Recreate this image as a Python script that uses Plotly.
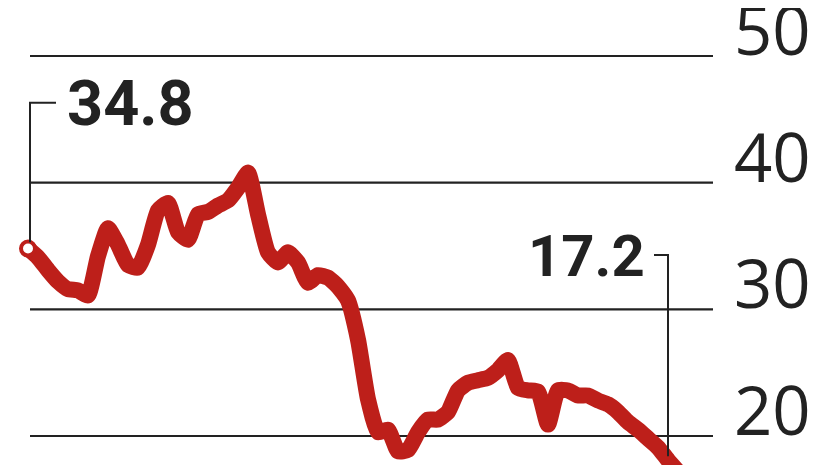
import plotly.graph_objects as go

# --- data ---
days = list(range(66))
price = [
    34.8, 34.1, 33.1, 32.2, 31.6, 31.5, 31.1, 34.2, 36.4, 35.1,
    33.5, 33.3, 35.1, 37.8, 38.4, 36.1, 35.5, 37.5, 37.7, 38.2,
    38.6, 39.6, 40.8, 37.5, 34.5, 33.7, 34.5, 33.7, 32.1, 32.7,
    32.5, 31.8, 30.7, 27.6, 22.9, 20.3, 20.5, 18.8, 18.9, 20.3,
    21.3, 21.3, 21.9, 23.6, 24.2, 24.4, 24.6, 25.2, 26.0, 23.8,
    23.6, 23.5, 20.9, 23.6, 23.6, 23.2, 23.2, 22.8, 22.5, 21.9,
    21.1, 20.5, 19.8, 19.1, 18.1, 17.2,
]
grid_values = [20, 30, 40, 50]
grid_labels = ['20', '30', '40', '50']
first_label = '34.8'
last_label = '17.2'

RED = '#bd1f1a'
INK = '#222222'

# page body adds an 8px margin, so the figure is laid out 8px up/left
fig = go.Figure()

fig.add_trace(go.Scatter(
    x=days, y=price, mode='lines',
    line=dict(color=RED, width=16, shape='spline', smoothing=0.5),
    hoverinfo='skip',
))
# hollow start marker
fig.add_trace(go.Scatter(
    x=[days[0]], y=[price[0]], mode='markers',
    marker=dict(size=14, color='white', line=dict(color=RED, width=4)),
    hoverinfo='skip', cliponaxis=False,
))

shapes = []
annotations = []

# gridlines + right-hand labels
for v, lab in zip(grid_values, grid_labels):
    shapes.append(dict(type='line', xref='paper', yref='y',
                       x0=22 / 826, x1=705 / 826, y0=v, y1=v,
                       line=dict(color=INK, width=2.2), layer='below'))
    annotations.append(dict(x=724 / 826, y=v, xref='paper', yref='y',
                            text=lab, showarrow=False,
                            xanchor='left', yanchor='middle', yshift=27,
                            font=dict(family='Open Sans', size=67, color=INK)))

# leader for first value
x0 = days[0] + 0.2
shapes.append(dict(type='path', xref='x', yref='y',
                   path=f'M {x0},{price[0] + 0.5} L {x0},46.3 L {x0 + 2.6},46.3',
                   line=dict(color=INK, width=2)))
annotations.append(dict(x=x0 + 3.5, y=46.3, xref='x', yref='y',
                        text=f'<b>{first_label}</b>', showarrow=False,
                        xanchor='left', yanchor='middle', yshift=-1,
                        font=dict(family='Roboto', size=63, color=INK)))

# leader for last value
xe = days[-1] - 1.0
shapes.append(dict(type='path', xref='x', yref='y',
                   path=f'M {xe - 1.4},34.3 L {xe},34.3 L {xe},{price[-1] + 1.2}',
                   line=dict(color=INK, width=2)))
annotations.append(dict(x=xe - 2.1, y=34.3, xref='x', yref='y',
                        text=f'<b>{last_label}</b>', showarrow=False,
                        xanchor='right', yanchor='middle', yshift=-1,
                        font=dict(family='Roboto', size=58, color=INK)))

fig.update_layout(
    width=826, height=465,
    margin=dict(l=0, r=0, t=0, b=0),
    paper_bgcolor='white', plot_bgcolor='white',
    showlegend=False,
    xaxis=dict(range=[-2.0, 80.6], visible=False, fixedrange=True),
    yaxis=dict(range=[17.08, 53.79], visible=False, fixedrange=True),
    shapes=shapes,
    annotations=annotations,
)

fig.write_html("out.html")
